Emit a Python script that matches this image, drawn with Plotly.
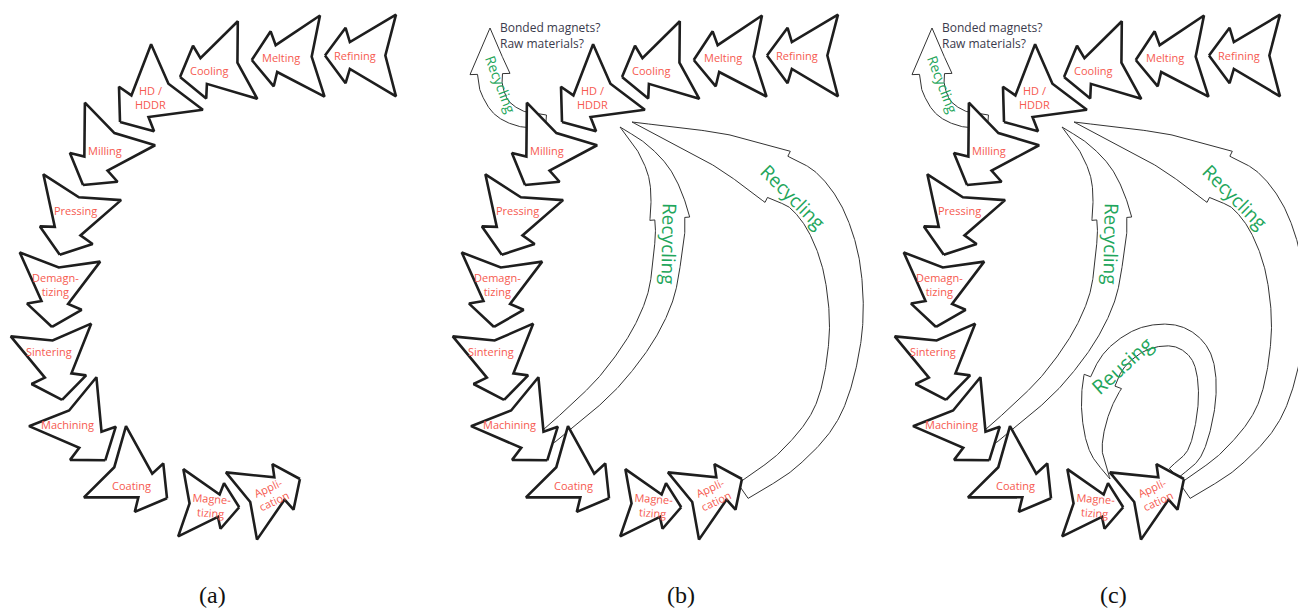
import numpy as np
import plotly.graph_objects as go

W, H = 1306, 613
PAGE_MARGIN = 8   # default <body> margin of the html page

# ---------------- data (panel (a) pixel frame; panels b, c are shifted copies) -------------
steps = ["Refining", "Melting", "Cooling", "HD /<br>HDDR", "Milling", "Pressing",
         "Demagn-<br>tizing", "Sintering", "Machining", "Coating", "Magne-<br>tizing", "Appli-<br>cation"]
step_cx = [360.5, 287, 213.8, 148.5, 101.5, 71, 56, 56.5, 84, 136, 210, 270.7]
step_cy = [55.5, 58, 68.5, 99.5, 154.5, 221, 292, 365, 431, 480, 505, 492.5]
step_angle = [180, 176.8, 165.9, 141.7, 121.2, 108.4, 96.5, 81, 54, 30.5, 4.4, -24.8]
step_size = [35.5, 35.3, 34.8, 36.3, 35.7, 35.6, 35.2, 35.4, 36.2, 36, 29.3, 32.2]
label_x = [355, 281, 209, 150, 105, 75, 55, 49, 67, 131, 211, 270]
label_y = [55, 57, 70, 97, 150, 210, 284, 351, 424, 485, 505, 494]
label_angle = [0, 0, 0, 0, 0, 0, 0, 0, 0, 0, 4, -25]

panel_dx = [0, 442, 884]
panel_tag = ["(a)", "(b)", "(c)"]
tag_x = [212, 681, 1113]
tag_y = 595

# curved arrows (centerline points, tail -> tip), relative to panel frame
small_rec_x = [104, 80, 60, 50, 48, 48]
small_rec_y = [121, 119, 108, 90, 74, 28]
small_rec_w = [12, 25, 40, 46]          # tail width, shaft width near head, head base width, head length

inner_rec_x = [107, 141, 171, 200, 218, 225, 228, 220, 202, 178]
inner_rec_y = [436, 407, 377, 337, 298, 260, 222, 180, 150, 127]
inner_rec_w = [17, 30, 40, 108]

outer_rec_x = [301, 348, 386, 403, 401, 386, 363, 336, 278, 190]
outer_rec_y = [491, 458, 410, 340, 275, 225, 192, 177, 150, 122]
outer_rec_w = [18, 46, 57, 156]

reuse_x = [290, 312, 323, 318, 295, 262, 234, 219, 211, 212, 226]
reuse_y = [473, 450, 400, 358, 337, 338, 356, 381, 415, 450, 479]
reuse_w = [13, 26, 40, 102]

# green arrow labels: text, x, y, angle, size
rec_labels_b = [("Recycling", 59, 84, 69, 14), ("Recycling", 227, 244, 91, 19), ("Recycling", 351, 197, 45, 19)]
reuse_label = ("Reusing", 238, 365, -42, 20)
question_text = "Bonded magnets?<br>Raw materials?"
question_x, question_y = 56, 35

RED = "#f65a50"
GREEN = "#1fa65c"
INK = "#1e1e1e"

# ---------------- geometry helpers ----------------
arrow_u = [1.0, 0.42, 0.30, -1.0, -0.70, -1.0, 0.30, 0.42, 1.0]
arrow_v = [0.0, 0.78, 0.38, 1.15, 0.0, -1.15, -0.38, -0.78, 0.0]


def step_arrow(cx, cy, ang, s):
    a = np.deg2rad(ang)
    u = np.array(arrow_u) * s
    v = np.array(arrow_v) * s
    x = cx + u * np.cos(a) - v * np.sin(a)
    y = cy + u * np.sin(a) + v * np.cos(a)
    return x, y


def catmull(px, py, n=40):
    P = np.column_stack([px, py]).astype(float)
    P = np.vstack([2 * P[0] - P[1], P, 2 * P[-1] - P[-2]])
    out = []
    for i in range(1, len(P) - 2):
        p0, p1, p2, p3 = P[i - 1], P[i], P[i + 1], P[i + 2]
        for t in np.linspace(0, 1, n, endpoint=False):
            t2, t3 = t * t, t * t * t
            out.append(0.5 * ((2 * p1) + (-p0 + p2) * t + (2 * p0 - 5 * p1 + 4 * p2 - p3) * t2
                              + (-p0 + 3 * p1 - 3 * p2 + p3) * t3))
    out.append(P[-2])
    return np.array(out)


def curved_arrow(px, py, widths, dx=0):
    w_tail, w_shaft, w_head, head_len = widths
    C = catmull(px, py)
    seg = np.hypot(*np.diff(C, axis=0).T)
    s = np.concatenate([[0], np.cumsum(seg)])
    L = s[-1]
    sh = L - head_len
    idx = np.searchsorted(s, sh)
    f = (sh - s[idx - 1]) / (s[idx] - s[idx - 1])
    ph = C[idx - 1] + f * (C[idx] - C[idx - 1])
    tang = np.gradient(C, axis=0)
    tang /= np.hypot(tang[:, 0], tang[:, 1])[:, None]
    th = tang[idx - 1] + f * (tang[idx] - tang[idx - 1])
    th /= np.hypot(*th)
    left, right = [], []

    def add(p, t, w):
        n = np.array([-t[1], t[0]])
        left.append(p + n * w / 2)
        right.append(p - n * w / 2)

    for i in range(idx):
        add(C[i], tang[i], w_tail + (w_shaft - w_tail) * s[i] / sh)
    add(ph, th, w_shaft)
    add(ph, th, w_head)
    for i in range(idx, len(C)):
        add(C[i], tang[i], max(w_head * (L - s[i]) / head_len, 0))
    poly = np.array(left + right[::-1] + [left[0]])
    return poly[:, 0] + dx, poly[:, 1]


fig = go.Figure()


def add_poly(x, y, lw, color=INK):
    fig.add_trace(go.Scatter(x=x, y=y, mode="lines", fill="toself", fillcolor="white",
                             line=dict(color=color, width=lw), hoverinfo="skip", showlegend=False))


annotations = []
for p, dx in enumerate(panel_dx):
    if p >= 1:
        add_poly(*curved_arrow(small_rec_x, small_rec_y, small_rec_w, dx), 1.0, "#333")
        add_poly(*curved_arrow(outer_rec_x, outer_rec_y, outer_rec_w, dx), 1.0, "#333")
        add_poly(*curved_arrow(inner_rec_x, inner_rec_y, inner_rec_w, dx), 1.0, "#333")
    if p == 2:
        add_poly(*curved_arrow(reuse_x, reuse_y, reuse_w, dx), 1.0, "#333")
    for i in range(len(steps)):
        x, y = step_arrow(step_cx[i] + dx, step_cy[i], step_angle[i], step_size[i])
        add_poly(x, y, 2.6)
        annotations.append(dict(x=label_x[i] + dx, y=label_y[i], text=steps[i], showarrow=False,
                                textangle=label_angle[i],
                                font=dict(family="Open Sans", size=11, color=RED)))
    if p >= 1:
        for t, lx, ly, la, ls in rec_labels_b:
            annotations.append(dict(x=lx + dx, y=ly, text=t, showarrow=False, textangle=la,
                                    font=dict(family="Open Sans", size=ls, color=GREEN)))
        annotations.append(dict(x=question_x + dx, y=question_y, text=question_text, showarrow=False,
                                xanchor="left", align="left",
                                font=dict(family="Open Sans", size=12, color="#3a3a4c")))
    if p == 2:
        t, lx, ly, la, ls = reuse_label
        annotations.append(dict(x=lx + dx, y=ly, text=t, showarrow=False, textangle=la,
                                font=dict(family="Open Sans", size=ls, color=GREEN)))
    annotations.append(dict(x=tag_x[p], y=tag_y, text=panel_tag[p], showarrow=False,
                            font=dict(family="Liberation Serif", size=24, color="#111")))

fig.update_layout(
    width=W - PAGE_MARGIN, height=H - PAGE_MARGIN, margin=dict(l=0, r=0, t=0, b=0),
    paper_bgcolor="white", plot_bgcolor="white",
    xaxis=dict(range=[PAGE_MARGIN, W], visible=False, fixedrange=True),
    yaxis=dict(range=[H, PAGE_MARGIN], visible=False, fixedrange=True),
    annotations=annotations, showlegend=False,
)
fig.write_html("out.html")
